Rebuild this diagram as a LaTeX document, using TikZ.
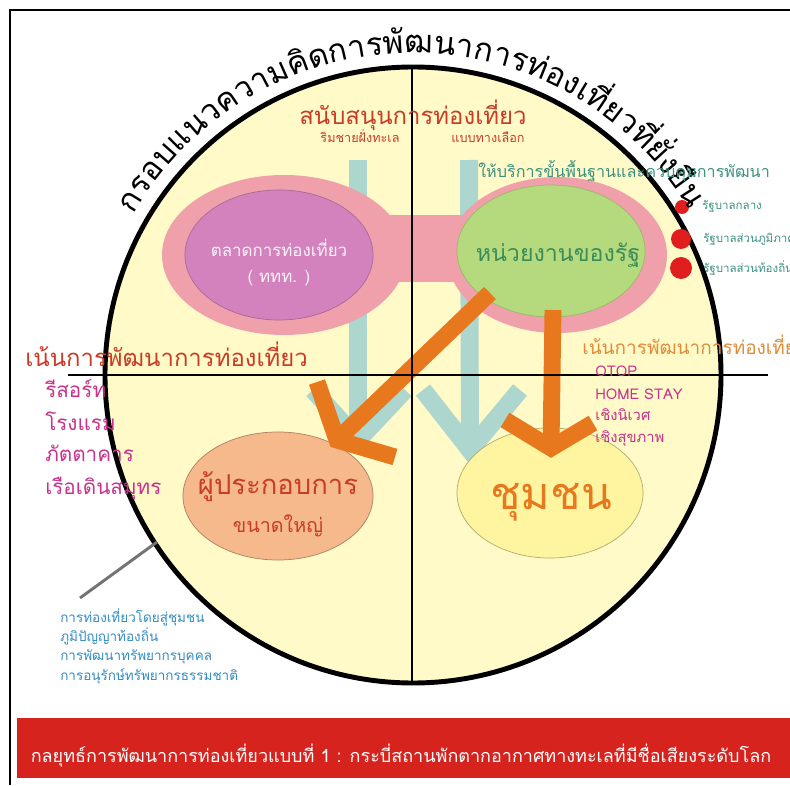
\documentclass[tikz,border=0pt]{standalone}
\usepackage{fontspec}
\setmainfont[Script=Thai]{Loma}
\usetikzlibrary{shapes.geometric,decorations.text,calc}

\definecolor{bgyellow}{HTML}{FFFAC8}
\definecolor{pinkring}{HTML}{F0A0AA}
\definecolor{purplein}{HTML}{D482BE}
\definecolor{greenin}{HTML}{B4DA7D}
\definecolor{tealfaint}{HTML}{ACD6CE}
\definecolor{orangearr}{HTML}{E8781E}
\definecolor{peachin}{HTML}{F5B98C}
\definecolor{paleyel}{HTML}{FFF5A0}
\definecolor{redtitle}{HTML}{C83C28}
\definecolor{magtext}{HTML}{C8328C}
\definecolor{tealtext}{HTML}{3C9182}
\definecolor{greentext}{HTML}{3C8C5A}
\definecolor{bluetext}{HTML}{328CC3}
\definecolor{orangetext}{HTML}{E18C3C}
\definecolor{bannerred}{HTML}{D7231E}
\definecolor{dotred}{HTML}{E11E1E}

\newcommand\arcfont{\fontsize{22.5pt}{26pt}\selectfont}
\newcommand\fsz[1]{\fontsize{#1pt}{#1pt}\selectfont}

\tikzset{
  frameline/.style={line width=2.1pt},
  ringline/.style={line width=3.5pt},
  crossline/.style={line width=1.8pt},
  tealbar/.style={draw=tealfaint,line width=12.8pt,line join=miter},
  orangebar/.style={draw=orangearr,line width=12pt,line join=miter},
  oval/.style={ellipse,inner sep=0pt,line width=0.5pt},
  lbl/.style={inner sep=0pt,anchor=base},
  lblw/.style={inner sep=0pt,anchor=base west}
}

\begin{document}
\begin{tikzpicture}[x=0.025cm,y=0.025cm]
\useasboundingbox (0,0) rectangle (790,785);

% frame and circle
\draw[frameline] (10,0) |- (790,775);
\coordinate (ctr) at (413,410);
\draw[ringline,fill=bgyellow] (ctr) circle[radius=308];

% faint arrows behind
\coordinate (tealltop) at (358,625);
\coordinate (teallend) at (358,345);
\draw[tealbar] (tealltop) -- (teallend);
\draw[tealbar] ($(teallend)+(-45,50)$) -- (teallend) -- ($(teallend)+(47,50)$);
\coordinate (tealrtop) at (469,625);
\coordinate (tealrend) at (470,335);
\draw[tealbar] (tealrtop) -- (tealrend);
\draw[tealbar] ($(tealrend)+(-47,60)$) -- (tealrend) -- ($(tealrend)+(50,60)$);

% pink capsule
\fill[pinkring] (284,530) ellipse[x radius=122,y radius=80];
\fill[pinkring] (557,530) ellipse[x radius=110,y radius=78];
\fill[pinkring] (380,503) rectangle (470,570);
\node[oval,draw=purplein!80!black,fill=purplein,minimum width=4.7cm,minimum height=3.25cm] (market) at (279,530) {};
\node[oval,draw=greenin!85!black,fill=greenin,minimum width=4.7cm,minimum height=3.3cm] (govagency) at (551,534) {};

% lower ovals
\node[oval,draw=peachin!70!black,fill=peachin,minimum width=4.75cm,minimum height=3.2cm] (bigbiz) at (278,289) {};
\node[oval,draw=paleyel!70!black,fill=paleyel,minimum width=4.65cm,minimum height=3.25cm] (community) at (550,292) {};

% orange arrows
\coordinate (diagfrom) at (490,492);
\coordinate (diagtip) at (337,345);
\draw[orangebar] (diagfrom) -- (diagtip);
\draw[orangebar] ($(diagtip)+(-20,58)$) -- (diagtip) -- ($(diagtip)+(58,-17)$);
\coordinate (downfrom) at (553,475);
\coordinate (downtip) at (551,337);
\draw[orangebar] (downfrom) -- (downtip);
\draw[orangebar] ($(downtip)+(-46,28)$) -- (downtip) -- ($(downtip)+(42,25)$);

% cross
\draw[crossline] (68,410) -- (768,410);
\draw[crossline] (412,718) -- (412,102);

% pointer line
\coordinate (ptrfrom) at (157,243);
\coordinate (ptrto) at (80,187);
\draw[line width=2.1pt,color=black!55] (ptrfrom) -- (ptrto);

% red dots
\fill[dotred] (682,578) circle[radius=7];
\fill[dotred] (681,546) circle[radius=10];
\fill[dotred] (681,517) circle[radius=11];

% title on the arc
\path[decorate,decoration={text along path,text align=center,
  text={|\arcfont|กรอบแนวความ{คิ}ดการ{พั}ฒนาการ{ท่}องเ{ที่}ยว{ที่}{ยั่}ง{ยื}น}}]
  ($(ctr)+(160:322)$) arc[start angle=160,end angle=21,radius=322];

% texts top
\node[lbl,font=\fsz{17},text=redtitle] (support) at (413,660) {สนับสนุนการท่องเที่ยว};
\node[lbl,font=\fsz{9},text=redtitle] (seaside) at (360,642) {ริมชายฝั่งทะเล};
\node[lbl,font=\fsz{9},text=redtitle] (altern) at (488,642) {แบบทางเลือก};
\node[lblw,font=\fsz{11.5},text=tealtext] (service) at (478,607) {ให้บริการขั้นพื้นฐานและควบคุมการพัฒนา};
\node[lblw,font=\fsz{8.2},text=tealtext] (central) at (702,575) {รัฐบาลกลาง};
\node[lblw,font=\fsz{8.2},text=tealtext] (regional) at (703,542) {รัฐบาลส่วนภูมิภาค};
\node[lblw,font=\fsz{8.2},text=tealtext] (local) at (703,512) {รัฐบาลส่วนท้องถิ่น};

% texts in ovals
\node[lbl,font=\fsz{12},text=white!90!purplein] (markettext) at (279,528) {ตลาดการท่องเที่ยว};
\node[lbl,font=\fsz{12},text=white!90!purplein] (tattext) at (279,502) {( ททท. )};
\node[lbl,font=\fsz{16.5},text=greentext] (govtext) at (558,523) {หน่วยงานของรัฐ};
\node[lbl,font=\fsz{19.5},text=redtitle] (bizbig) at (278,290) {ผู้ประกอบการ};
\node[lbl,font=\fsz{14},text=redtitle] (bizsize) at (278,253) {ขนาดใหญ่};
\node[lbl,font=\fsz{32},text=orangearr] (commtext) at (551,276) {ชุมชน};

% left side
\node[lblw,font=\fsz{17},text=redtitle] (leftfocus) at (25,418) {เน้นการพัฒนาการท่องเที่ยว};
\foreach \txt [count=\i] in {รีสอร์ท,โรงแรม,ภัตตาคาร,เรือเดินสมุทร}
  \node[lblw,font=\fsz{14.7},text=magtext] (leftitem\i) at (45,419-32*\i) {\txt};

% right side
\node[lblw,font=\fsz{13.5},text=orangetext] (rightfocus) at (582,430) {เน้นการพัฒนาการท่องเที่ยว};
\foreach \txt/\yy [count=\i] in {OTOP/408,HOME STAY/385,เชิงนิเวศ/364,เชิงสุขภาพ/343}
  \node[lblw,font=\fsz{10.5},text=magtext] (rightitem\i) at (595,\yy) {\txt};

% bottom left list
\foreach \txt/\yy [count=\i] in {การท่องเที่ยวโดยสู่ชุมชน/163,ภูมิปัญญาท้องถิ่น/144,การพัฒนาทรัพยากรบุคคล/125,การอนุรักษ์ทรัพยากรธรรมชาติ/105}
  \node[lblw,font=\fsz{9.6},text=bluetext] (listitem\i) at (60,\yy) {\txt};

% banner
\fill[bannerred] (17,7) rectangle (790,67);
\node[lbl,font=\fsz{12.8},text=white] (bannertext) at (401,23) {กลยุทธ์การพัฒนาการท่องเที่ยวแบบที่ 1 : กระบี่สถานพักตากอากาศทางทะเลที่มีชื่อเสียงระดับโลก};

\end{tikzpicture}
\end{document}
